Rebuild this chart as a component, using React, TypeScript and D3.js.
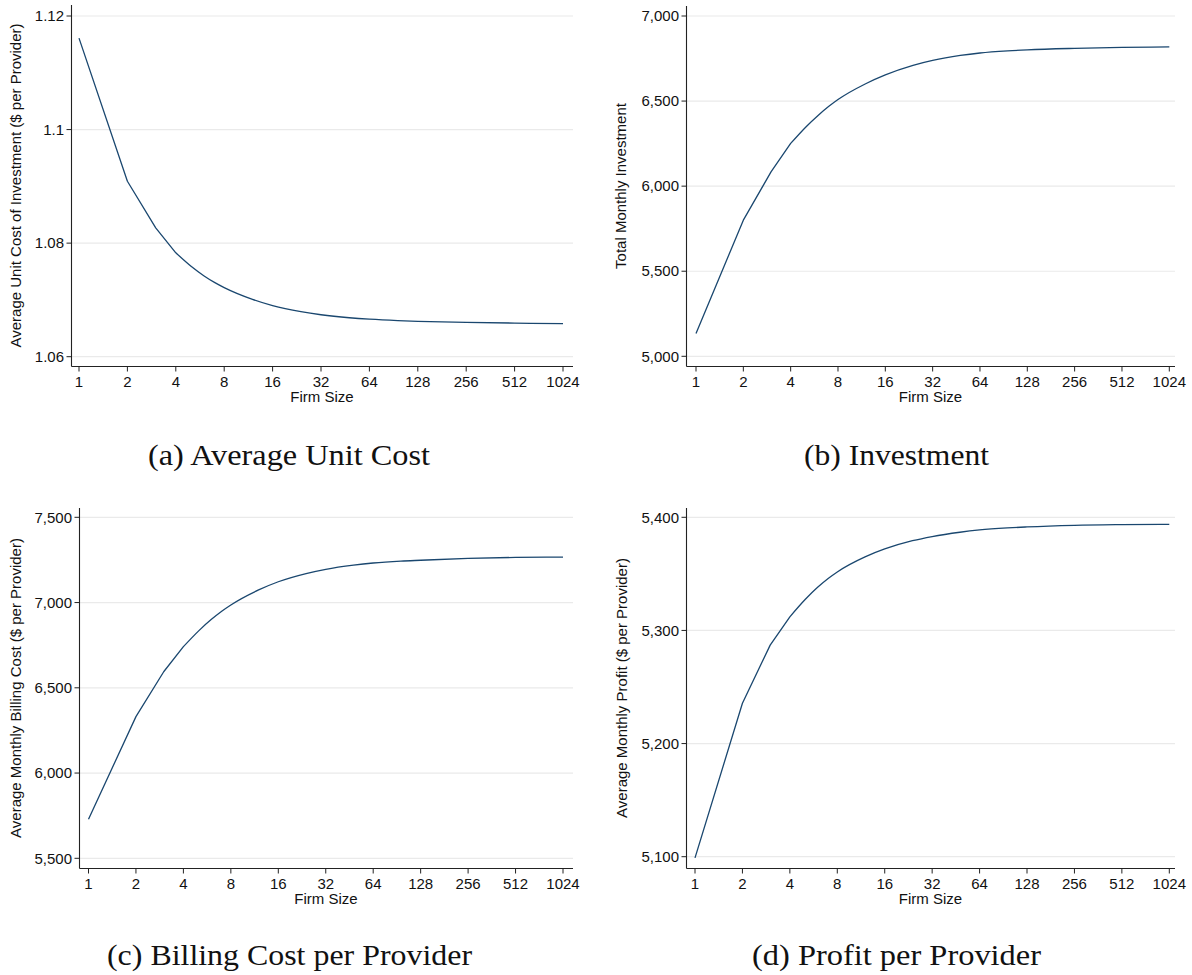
import React from "react";
import * as d3 from "d3";

// ---- data ----
const firmSize = [1, 2, 3, 4, 5, 6, 7, 8, 12, 16, 24, 32, 48, 64, 96, 128, 256, 512, 1024];
const xTickValues = [1, 2, 4, 8, 16, 32, 64, 128, 256, 512, 1024];

const unitCost = [1.1161, 1.0909, 1.0827, 1.0783, 1.07588, 1.07422, 1.07304, 1.07217, 1.0701, 1.069, 1.06793, 1.06739, 1.06686, 1.0666, 1.06635, 1.06623, 1.06605, 1.06592, 1.06582];
const investment = [5134, 5800, 6084, 6251, 6348, 6417, 6469, 6509, 6602, 6654, 6710, 6739, 6768, 6782.5, 6795, 6801, 6810, 6816, 6818];
const billingCost = [5729, 6331, 6594, 6741, 6834, 6900, 6949, 6986, 7074, 7122, 7170, 7195, 7219.5, 7232, 7243, 7248, 7259, 7265, 7267];
const profit = [5099, 5235.6, 5287, 5312, 5327.3, 5338.1, 5345.9, 5351.7, 5365, 5372, 5379.3, 5383, 5386.8, 5388.8, 5390.6, 5391.5, 5392.9, 5393.5, 5393.8];

const unitCostTicks = [1.06, 1.08, 1.1, 1.12];
const investmentTicks = [5000, 5500, 6000, 6500, 7000];
const billingTicks = [5500, 6000, 6500, 7000, 7500];
const profitTicks = [5100, 5200, 5300, 5400];

const yTitles = [
  "Average Unit Cost of Investment ($ per Provider)",
  "Total Monthly Investment",
  "Average Monthly Billing Cost ($ per Provider)",
  "Average Monthly Profit ($ per Provider)",
];
const captions = [
  "(a) Average Unit Cost",
  "(b) Investment",
  "(c) Billing Cost per Provider",
  "(d) Profit per Provider",
];
const xTitle = "Firm Size";

// ---- layout ----
const layouts = [
  { axisX: 71, right: 573, top: 5, bottom: 366, x1: 79, x1024: 563, yLoPx: 356.7, yHiPx: 16, titleX: 20.5, capCx: 289, capY: 465, capW: 282 },
  { axisX: 686, right: 1175, top: 6, bottom: 366, x1: 696, x1024: 1169.3, yLoPx: 356.3, yHiPx: 16, titleX: 625.5, capCx: 896.5, capY: 465, capW: 185 },
  { axisX: 79, right: 573, top: 508, bottom: 868, x1: 88.5, x1024: 563, yLoPx: 858.3, yHiPx: 517.3, titleX: 20.5, capCx: 289.5, capY: 965, capW: 365 },
  { axisX: 686, right: 1175, top: 508, bottom: 868, x1: 695, x1024: 1169.3, yLoPx: 856.7, yHiPx: 517.3, titleX: 627, capCx: 896.5, capY: 965, capW: 289 },
];

const series = [unitCost, investment, billingCost, profit];
const tickSets = [unitCostTicks, investmentTicks, billingTicks, profitTicks];
const commaFmt = d3.format(",");
const formatters = [(v: number) => String(v), commaFmt, commaFmt, commaFmt];

const LINE = "#1a476f";
const GRID = "#eaeaea";
const AXIS = "#222";
const SANS = "'Liberation Sans', Arial, Helvetica, sans-serif";
const SERIF = "'Liberation Serif', 'Times New Roman', serif";
const SPLIT = 3; // index of firm size 4: straight segments before, smooth after

function Panel({ i }: { i: number }) {
  const L = layouts[i];
  const ticks = tickSets[i];
  const values = series[i];
  const x = d3.scaleLog().base(2).domain([1, 1024]).range([L.x1, L.x1024]);
  const y = d3.scaleLinear().domain([ticks[0], ticks[ticks.length - 1]]).range([L.yLoPx, L.yHiPx]);
  const pts: [number, number][] = values.map((v, k) => [x(firmSize[k]), y(v)]);
  const linear = d3.line().curve(d3.curveLinear);
  const smooth = d3.line().curve(d3.curveMonotoneX);
  const d = (linear(pts.slice(0, SPLIT + 1)) || "") + (smooth(pts.slice(SPLIT)) || "").replace(/^M/, "L");
  const midY = (L.top + L.bottom) / 2;
  const ax = L.axisX + 0.5;
  const bt = L.bottom + 0.5;
  return (
    <g>
      {ticks.map((t) => (
        <line key={"g" + t} x1={ax} x2={L.right} y1={y(t)} y2={y(t)} stroke={GRID} strokeWidth={1.2} />
      ))}
      <path d={d} fill="none" stroke={LINE} strokeWidth={1.3} strokeLinejoin="round" />
      <line x1={ax} x2={ax} y1={L.top} y2={bt} stroke={AXIS} strokeWidth={1.1} />
      <line x1={ax} x2={L.right} y1={bt} y2={bt} stroke={AXIS} strokeWidth={1.1} />
      {ticks.map((t) => (
        <g key={"yt" + t}>
          <line x1={ax - 5} x2={ax} y1={y(t)} y2={y(t)} stroke={AXIS} strokeWidth={1} />
          <text x={ax - 7.5} y={y(t)} dy="0.35em" textAnchor="end" fontFamily={SANS} fontSize={15} fill="#111">
            {formatters[i](t)}
          </text>
        </g>
      ))}
      {xTickValues.map((t) => (
        <g key={"xt" + t}>
          <line x1={x(t)} x2={x(t)} y1={bt} y2={bt + 5} stroke={AXIS} strokeWidth={1} />
          <text x={x(t)} y={L.bottom + 20.5} textAnchor="middle" fontFamily={SANS} fontSize={15} fill="#111">
            {t}
          </text>
        </g>
      ))}
      <text x={(L.axisX + L.right) / 2} y={L.bottom + 36} textAnchor="middle" fontFamily={SANS} fontSize={15} fill="#111">
        {xTitle}
      </text>
      <text
        transform={`translate(${L.titleX},${midY}) rotate(-90)`}
        textAnchor="middle"
        fontFamily={SANS}
        fontSize={15}
        fill="#111"
      >
        {yTitles[i]}
      </text>
      <text
        x={L.capCx - L.capW / 2}
        y={L.capY}
        fontFamily={SERIF}
        fontSize={29}
        fill="#111"
        textLength={L.capW}
        lengthAdjust="spacingAndGlyphs"
      >
        {captions[i]}
      </text>
    </g>
  );
}

export default function App() {
  return (
    <svg
      width={1192}
      height={975}
      style={{ position: "absolute", left: 0, top: 0, background: "#fff" }}
      xmlns="http://www.w3.org/2000/svg"
    >
      <rect x={0} y={0} width={1192} height={975} fill="#fff" />
      {layouts.map((_, i) => (
        <Panel key={i} i={i} />
      ))}
    </svg>
  );
}
